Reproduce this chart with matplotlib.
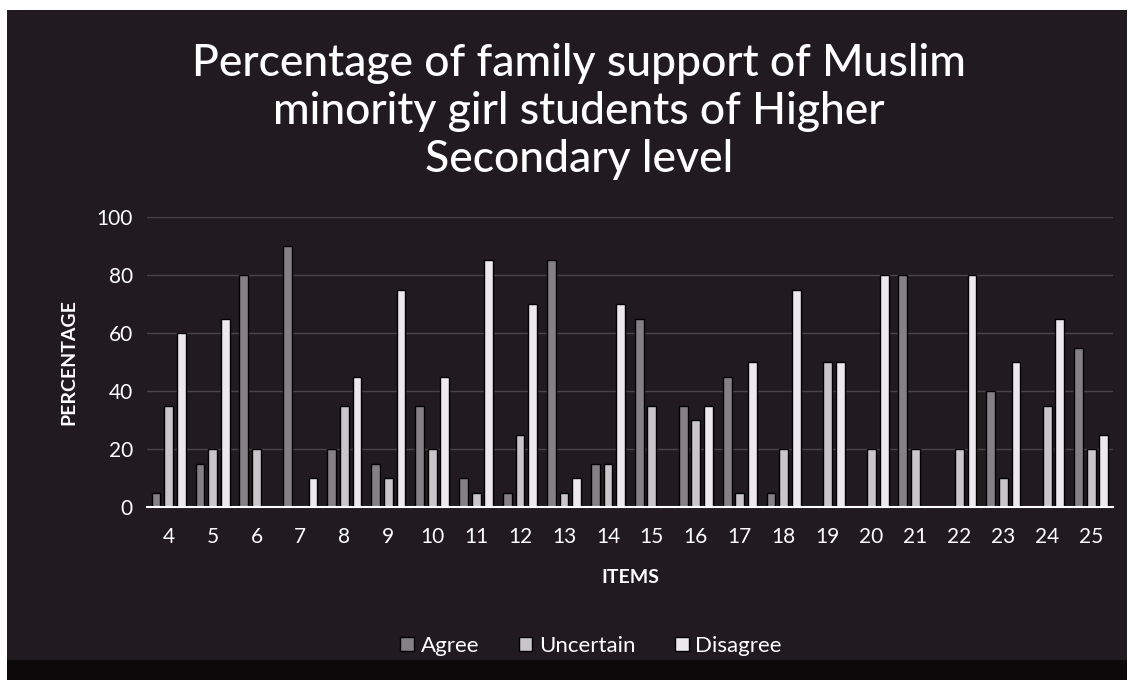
import numpy as np
import matplotlib.pyplot as plt
from matplotlib.patches import Rectangle

# Survey items and response shares (%)
items = [str(i) for i in range(4, 26)]
agree = [5, 15, 80, 90, 20, 15, 35, 10, 5, 85, 15, 65, 35, 45, 5, 0, 0, 80, 0, 40, 0, 55]
uncertain = [35, 20, 20, 0, 35, 10, 20, 5, 25, 5, 15, 35, 30, 5, 20, 50, 20, 20, 20, 10, 35, 20]
disagree = [60, 65, 0, 10, 45, 75, 45, 85, 70, 10, 70, 0, 35, 50, 75, 50, 80, 0, 80, 50, 65, 25]
yticks = [0, 20, 40, 60, 80, 100]

plt.rcParams['font.family'] = ['Lato', 'DejaVu Sans']

fig = plt.figure(figsize=(11.37, 6.8), dpi=100)
fig.patch.set_facecolor('white')

# dark board behind the chart, with a near-black strip at the bottom
fig.patches.append(Rectangle((0.006, 0.0), 0.985, 0.985, transform=fig.transFigure,
                             facecolor='#211b20', edgecolor='none', zorder=-10))
fig.patches.append(Rectangle((0.006, 0.0), 0.985, 0.03, transform=fig.transFigure,
                             facecolor='#0b0909', edgecolor='none', zorder=-9))

ax = fig.add_axes([0.129, 0.254, 0.850, 0.427])
ax.set_facecolor('none')

x = np.arange(len(items))
step = 0.287
w = 0.2


def edges(vals):
    # no outline on empty bars so they don't leave a stub on the axis
    return [1 if v > 0 else 0 for v in vals]


ax.bar(x - step, agree, w, color='#858085', edgecolor='black', linewidth=edges(agree),
       label='Agree', zorder=3)
ax.bar(x, uncertain, w, color='#c9c5c9', edgecolor='black', linewidth=edges(uncertain),
       label='Uncertain', zorder=3)
ax.bar(x + step, disagree, w, color='#ece8ec', edgecolor='black', linewidth=edges(disagree),
       label='Disagree', zorder=3)

ax.set_xlim(-0.5, len(items) - 0.5)
ax.set_ylim(0, 100)
ax.set_yticks(yticks)
ax.set_xticks(x)
ax.set_xticklabels(items)
ax.yaxis.grid(True, color='#4a4448', linewidth=1)
ax.set_axisbelow(True)
for s in ['top', 'right', 'left']:
    ax.spines[s].set_visible(False)
ax.spines['bottom'].set_color('white')
ax.spines['bottom'].set_linewidth(1.5)
ax.spines['bottom'].set_zorder(4)
ax.tick_params(length=0, colors='white', labelsize=15)
ax.tick_params(axis='x', pad=14)
ax.tick_params(axis='y', pad=10)

ax.set_xlabel('ITEMS', color='white', fontsize=14, fontweight='bold', labelpad=16)
ax.set_ylabel('PERCENTAGE', color='white', fontsize=14, fontweight='bold', labelpad=14)

fig.text(0.509, 0.836, 'Percentage of family support of Muslim\nminority girl students of Higher\nSecondary level',
         ha='center', va='center', color='white', fontsize=32, linespacing=1.2,
         fontweight='medium')

leg = fig.legend(loc='center', bbox_to_anchor=(0.52, 0.05), ncol=3, frameon=False,
                 fontsize=16, handlelength=0.6, handleheight=0.6, handletextpad=0.3,
                 columnspacing=1.8)
for t in leg.get_texts():
    t.set_color('white')

fig.savefig('out.png', dpi=100, facecolor=fig.get_facecolor())
